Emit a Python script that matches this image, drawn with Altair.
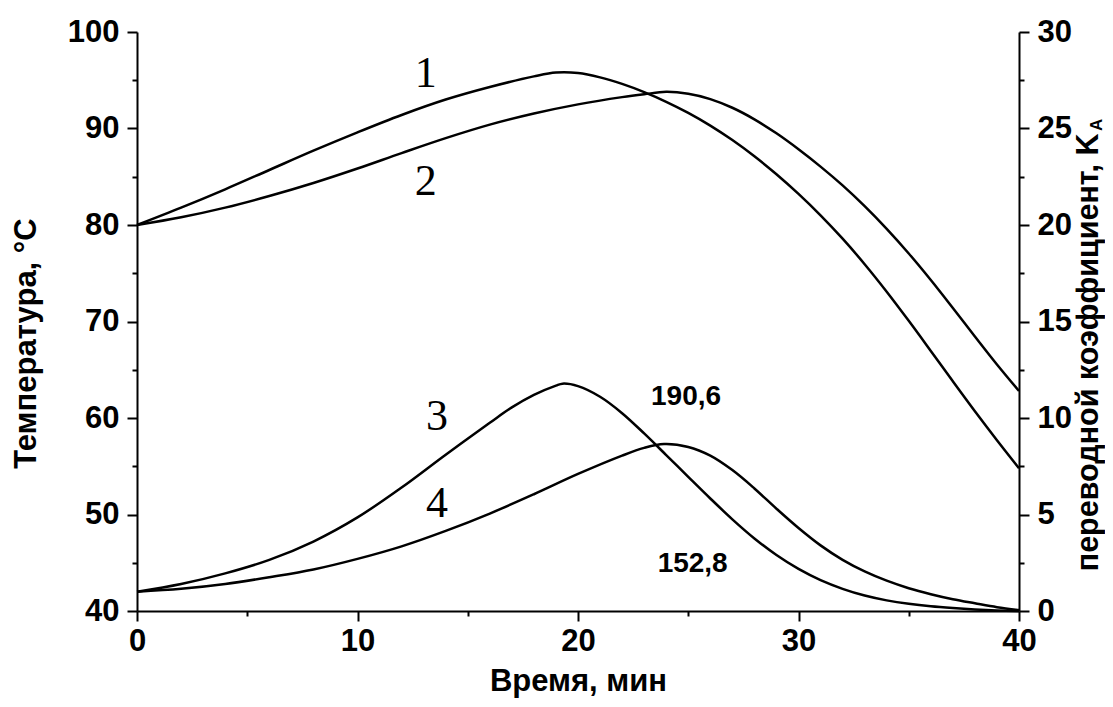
import altair as alt
import pandas as pd

# Curve 1 and 2: temperature, °C (left axis)
t1 = [0, 2, 4, 6, 8, 10, 12, 14, 16, 18, 19, 20, 21, 22, 23, 24, 25, 26, 27, 28, 29, 30, 31, 32,
      33, 34, 35, 36, 37, 38, 39, 40]
T1 = [80, 81.8, 83.7, 85.7, 87.7, 89.6, 91.4, 93.0, 94.3, 95.4, 95.8, 95.75, 95.3, 94.62, 93.77,
      92.77, 91.62, 90.3, 88.8, 87.12, 85.26, 83.22, 81.0, 78.58, 75.94, 73.09, 70.07, 66.95,
      63.8, 60.7, 57.7, 54.8]

t2 = [0, 2, 4, 6, 8, 10, 12, 14, 16, 18, 20, 22, 23, 24, 25, 26, 27, 28, 29, 30, 31, 32, 33, 34,
      35, 36, 37, 38, 39, 40]
T2 = [80, 80.8, 81.8, 83.0, 84.35, 85.85, 87.45, 89.0, 90.4, 91.55, 92.5, 93.25, 93.55, 93.8,
      93.6, 93.05, 92.15, 90.95, 89.5, 87.85, 86.05, 84.1, 81.95, 79.6, 77.05, 74.3, 71.4, 68.45,
      65.55, 62.8]

# Curve 3 and 4: K_A (right axis)
t3 = [0, 2, 4, 6, 8, 10, 12, 14, 16, 17, 18, 19, 19.3, 20, 21, 22, 23, 24, 25, 26, 27, 28, 29,
      30, 31, 32, 33, 34, 35, 36, 37, 38, 39, 40]
K3 = [1.0, 1.4, 1.95, 2.65, 3.6, 4.85, 6.4, 8.1, 9.75, 10.55, 11.2, 11.68, 11.78, 11.65, 11.1,
      10.25, 9.2, 8.08, 6.95, 5.83, 4.75, 3.76, 2.9, 2.18, 1.6, 1.15, 0.8, 0.55, 0.37, 0.24, 0.15,
      0.08, 0.03, 0.0]

t4 = [0, 2, 4, 6, 8, 10, 12, 14, 16, 18, 20, 22, 23, 23.9, 25, 26, 27, 28, 29, 30, 31, 32, 33,
      34, 35, 36, 37, 38, 39, 40]
K4 = [1.0, 1.15, 1.4, 1.75, 2.15, 2.7, 3.35, 4.15, 5.05, 6.05, 7.1, 8.05, 8.45, 8.65, 8.5, 8.05,
      7.3, 6.35, 5.3, 4.3, 3.4, 2.65, 2.05, 1.57, 1.18, 0.87, 0.61, 0.4, 0.2, 0.05]

# Curve number labels (in temperature coordinates)
num_text = ["1", "2", "3", "4"]
num_t = [13.1, 13.1, 13.6, 13.6]
num_T = [94.3, 83.1, 58.75, 49.7]

val_text = ["190,6", "152,8"]
val_t = [24.9, 25.2]
val_T = [61.35, 44.0]

FONT = "Liberation Sans"
BLACK = "#000000"

d1 = pd.DataFrame({"t": t1, "v": T1})
d2 = pd.DataFrame({"t": t2, "v": T2})
d3 = pd.DataFrame({"t": t3, "v": K3})
d4 = pd.DataFrame({"t": t4, "v": K4})
dn = pd.DataFrame({"t": num_t, "v": num_T, "s": num_text})
dv = pd.DataFrame({"t": val_t, "v": val_T, "s": val_text})
dsub = pd.DataFrame({"s": ["A"]})

xscale = alt.Scale(domain=[0, 40], nice=False, zero=False)
tscale = alt.Scale(domain=[40, 100], nice=False, zero=False)
kscale = alt.Scale(domain=[0, 30], nice=False, zero=False)

common_axis = dict(
    domainColor=BLACK, domainWidth=2, tickColor=BLACK, tickWidth=2, grid=False,
    labelFont=FONT, labelFontWeight="bold", labelFontSize=31, labelColor=BLACK,
    titleFont=FONT, titleFontWeight="bold", titleColor=BLACK,
)

x_major = alt.Axis(orient="bottom", values=[0, 10, 20, 30, 40], tickSize=10, labelPadding=5,
                   title="Время, мин", titleFontSize=31, titleX=441, titleY=79,
                   titleAlign="center", titleBaseline="alphabetic", titleAngle=0,
                   labelFlush=False, **common_axis)
x_minor = alt.Axis(orient="bottom", values=[5, 15, 25, 35], tickSize=5, labels=False,
                   domain=False, title=None, tickColor=BLACK, tickWidth=2, grid=False)

yl_major = alt.Axis(orient="left", values=[40, 50, 60, 70, 80, 90, 100], tickSize=10,
                    labelPadding=8, title="Температура, °C", titleFontSize=31, titleX=-102,
                    titleY=311, titleAlign="center", titleBaseline="alphabetic", titleAngle=270,
                    labelFlush=False, **common_axis)
yl_minor = alt.Axis(orient="left", values=[45, 55, 65, 75, 85, 95], tickSize=5, labels=False,
                    domain=False, title=None, tickColor=BLACK, tickWidth=2, grid=False)

yr_major = alt.Axis(orient="right", values=[0, 5, 10, 15, 20, 25, 30], tickSize=10,
                    labelPadding=8, title="переводной коэффициент, K", titleFontSize=30.5,
                    titleX=78, titleY=101, titleAlign="right", titleBaseline="alphabetic",
                    titleAngle=270, labelFlush=False, **common_axis)
yr_minor = alt.Axis(orient="right", values=[2.5, 7.5, 12.5, 17.5, 22.5, 27.5], tickSize=5,
                    labels=False, domain=False, title=None, tickColor=BLACK, tickWidth=2,
                    grid=False)

line_kw = dict(color=BLACK, strokeWidth=2.5, interpolate="catmull-rom")

c1 = alt.Chart(d1).mark_line(**line_kw).encode(
    x=alt.X("t:Q", scale=xscale, axis=x_major),
    y=alt.Y("v:Q", scale=tscale, axis=yl_major),
)
c2 = alt.Chart(d2).mark_line(**line_kw).encode(
    x=alt.X("t:Q", scale=xscale, axis=x_minor),
    y=alt.Y("v:Q", scale=tscale, axis=yl_minor),
)
c3 = alt.Chart(d3).mark_line(**line_kw).encode(
    x=alt.X("t:Q", scale=xscale, axis=None),
    y=alt.Y("v:Q", scale=kscale, axis=yr_major),
)
c4 = alt.Chart(d4).mark_line(**line_kw).encode(
    x=alt.X("t:Q", scale=xscale, axis=None),
    y=alt.Y("v:Q", scale=kscale, axis=yr_minor),
)
nums = alt.Chart(dn).mark_text(font="Liberation Serif", fontSize=44, color=BLACK,
                               align="center", baseline="alphabetic").encode(
    x=alt.X("t:Q", scale=xscale, axis=None),
    y=alt.Y("v:Q", scale=tscale, axis=None),
    text="s:N",
)
vals = alt.Chart(dv).mark_text(font=FONT, fontSize=28, fontWeight="bold", color=BLACK,
                               align="center", baseline="alphabetic").encode(
    x=alt.X("t:Q", scale=xscale, axis=None),
    y=alt.Y("v:Q", scale=tscale, axis=None),
    text="s:N",
)
sub = alt.Chart(dsub).mark_text(font=FONT, fontSize=17, fontWeight="bold", color=BLACK,
                                align="left", baseline="alphabetic", angle=270).encode(
    x=alt.value(965), y=alt.value(99), text="s:N",
)

chart = alt.layer(c1, c2, c3, c4, nums, vals, sub).resolve_scale(
    y="independent"
).resolve_axis(
    x="independent", y="independent"
).properties(
    width=882, height=579,
    autosize=alt.AutoSizeParams(type="none"),
    padding={"left": 129, "top": 24, "right": 86, "bottom": 88},
    background="white",
).configure_view(strokeWidth=0)

chart.save("out.html", embed_options={"renderer": "svg", "actions": False})
